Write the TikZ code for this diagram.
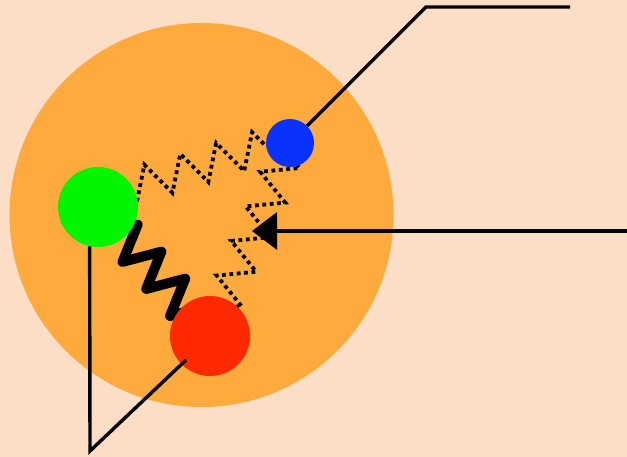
\documentclass[tikz,border=0pt]{standalone}
\usetikzlibrary{calc,backgrounds,decorations.pathmorphing,arrows.meta}

\definecolor{peach}{RGB}{252,221,197}
\definecolor{cellorange}{RGB}{255,170,60}
\definecolor{pgreen}{RGB}{0,245,0}
\definecolor{pblue}{RGB}{10,50,255}
\definecolor{pred}{RGB}{255,42,0}

\begin{document}
\begin{tikzpicture}[
  x=1pt, y=-1pt,
  ball/.style={circle, inner sep=0pt, minimum size=#1},
  wire/.style={line width=3.4pt, draw=black},
  bond/.style={decorate, decoration={zigzag, segment length=37.5pt, amplitude=17.5pt},
               line width=3.8pt, dash pattern=on 3.8pt off 3.6pt},
  coil/.style={decorate, decoration={zigzag, segment length=36pt, amplitude=18pt},
               line width=10pt, line join=round, line cap=round},
  arr/.style={wire, -{Triangle[length=25pt, width=37pt]}}
]

\useasboundingbox (0,0) rectangle (627,457);

%% cell
\begin{pgfonlayer}{background}
  \fill[peach] (0,0) rectangle (627,457);
  \node[ball=384pt, fill=cellorange] (cell) at (201.5,215) {};
\end{pgfonlayer}

%% particles
\node[ball=80pt, fill=pgreen] (green) at (98,207) {};
\node[ball=48pt, fill=pblue] (blue) at (290,143) {};
\node[ball=80pt, fill=pred] (red) at (210,336) {};

%% springs (under the particles)
\begin{pgfonlayer}{background}
  \draw[bond, decoration={mirror}] ($(green)+(24.5,-17.4)$) -- ($(blue)+(-20,2.1)$);
  \draw[bond] ($(blue)+(-2.8,9.6)$) -- ($(red)+(3.3,-7.3)$);
  \draw[coil] ($(green)+(20.15,22.75)$) -- ($(red)+(-18.55,-23)$);
\end{pgfonlayer}

%% pointer lines
\coordinate (knee) at (426,7);
\coordinate (lineend) at (570,7);
\coordinate (foot) at (90,451);
\coordinate (arrowtail) at (627,231);
\coordinate (arrowtip) at (252,231);

\draw[wire] (blue) -- (knee) -- (lineend);
\draw[wire] (green.258) -- (foot) -- ($(red)+(-24,24)$);
\draw[arr] (arrowtail) -- (arrowtip);
\end{tikzpicture}
\end{document}
